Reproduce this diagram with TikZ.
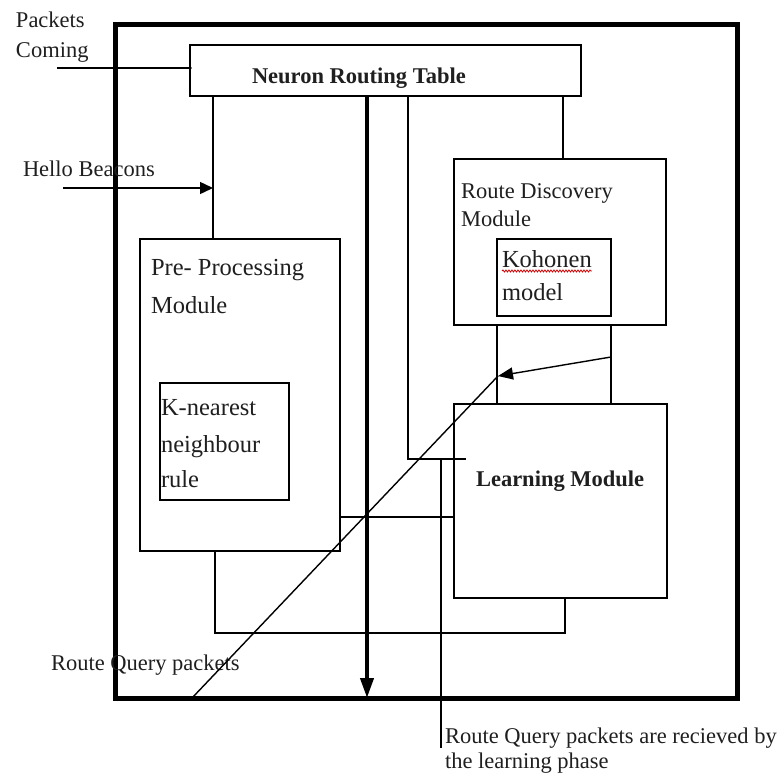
\documentclass[tikz,border=0pt]{standalone}
\usepackage{fontspec}
\setmainfont{Liberation Serif}
\usetikzlibrary{arrows.meta,decorations.pathmorphing,calc}
\begin{document}
\begin{tikzpicture}[x=1pt,y=-1pt,
  box/.style={draw=black, line width=1.6pt, inner sep=0pt, outer sep=0pt, rectangle},
  frame/.style={draw=black, line width=5pt, inner sep=0pt, outer sep=0pt, rectangle},
  wire/.style={draw=black, line width=1.4pt},
  thickwire/.style={draw=black, line width=4pt},
  txt/.style={anchor=base west, inner sep=0pt, outer sep=0pt, font=\fontsize{22.5}{27}\selectfont, text=black!88},
  txtb/.style={txt, font=\fontsize{22.5}{27}\selectfont\bfseries},
  txtl/.style={txt, font=\fontsize{24.5}{29}\selectfont}]
\useasboundingbox (0,0) rectangle (778,774);

% boxes
\node[frame, minimum width=622pt, minimum height=674pt] (frame) at (426,361) {};
\node[box, minimum width=391pt, minimum height=51pt] (nrt) at (385.5,70.5) {};
\node[box, minimum width=200pt, minimum height=312pt] (ppm) at (240,395) {};
\node[box, minimum width=129pt, minimum height=117pt] (knn) at (224.5,441.5) {};
\node[box, minimum width=212pt, minimum height=166pt] (rdm) at (560,242) {};
\node[box, minimum width=114pt, minimum height=77pt] (koh) at (554,277.5) {};
\node[box, minimum width=213pt, minimum height=194pt] (lm) at (560.5,501) {};

% texts
\node[txt] (pk1) at (16,27) {Packets};
\node[txt] (pk2) at (16,57) {Coming};
\node[txt] (hb) at (23,176) {Hello Beacons};
\node[txtb] (nrtl) at (252,83) {Neuron Routing Table};
\node[txtl] (pp1) at (151,275) {Pre- Processing};
\node[txtl] (pp2) at (151,313) {Module};
\node[txtl] (kn1) at (161,415) {K-nearest};
\node[txtl] (kn2) at (161,452) {neighbour};
\node[txtl] (kn3) at (161,487) {rule};
\node[txt] (rd1) at (461,198) {Route Discovery};
\node[txt] (rd2) at (461,226) {Module};
\node[txtl] (ko1) at (502,267) {Kohonen};
\node[txtl] (ko2) at (502,300) {model};
\node[txtb] (lml) at (476,486) {Learning Module};
\node[txt] (rq) at (51,670) {Route Query packets};
\node[txt] (rr1) at (445,743) {Route Query packets are recieved by};
\node[txt] (rr2) at (445,768) {the learning phase};

% spell-check underline
\draw[red!80!black, line width=0.8pt, decorate, decoration={snake, amplitude=1pt, segment length=3pt}]
  ($(ko1.base west)+(0,4)$) -- ($(ko1.base east)+(0,4)$);

% helper coordinates
\coordinate (xa) at (213,0);
\coordinate (xb) at (367,0);
\coordinate (xc) at (408,0);
\coordinate (xd) at (441,0);
\coordinate (xe) at (563,0);
\coordinate (xf) at (497,0);
\coordinate (xg) at (611,0);
\coordinate (xh) at (215,0);
\coordinate (xi) at (565,0);
\coordinate (ym) at (0,517);
\coordinate (yb) at (0,633);
\coordinate (pkS) at (57,68);
\coordinate (hbS) at (63,188);
\coordinate (lmTick) at (466,459);
\coordinate (ann) at (441,748);
\coordinate (rqA) at (611,357);
\coordinate (rqTip) at (498,376);
\coordinate (rqS) at (192,698);

% connectors
\draw[wire] (pkS) -- (pkS -| nrt.west);
\fill (pkS -| nrt.west) circle (1.8pt);
\draw[wire] (nrt.south -| xa) -- (ppm.north -| xa);
\draw[wire, -{Triangle[length=13pt,width=12pt]}] (hbS) -- (hbS -| xa);
\draw[thickwire, -{Triangle[length=20pt,width=13pt]}] (nrt.south -| xb) -- (frame.south -| xb);
\draw[wire] (nrt.south -| xc) |- (lmTick);
\draw[wire] (xd |- lmTick) -- (ann);
\draw[wire] (nrt.south -| xe) -- (rdm.north -| xe);
\draw[wire] (rdm.south -| xf) -- (lm.north -| xf);
\draw[wire] (rdm.south -| xg) -- (lm.north -| xg);
\draw[wire, -{Triangle[length=15pt,width=12pt]}] (rqA) -- (rqTip);
\draw[wire] (rqS) -- (rqTip);
\draw[wire] (ppm.east |- ym) -- (lm.west |- ym);
\draw[wire] (ppm.south -| xh) -- (xh |- yb) -- (xi |- yb) -- (lm.south -| xi);
\end{tikzpicture}
\end{document}
